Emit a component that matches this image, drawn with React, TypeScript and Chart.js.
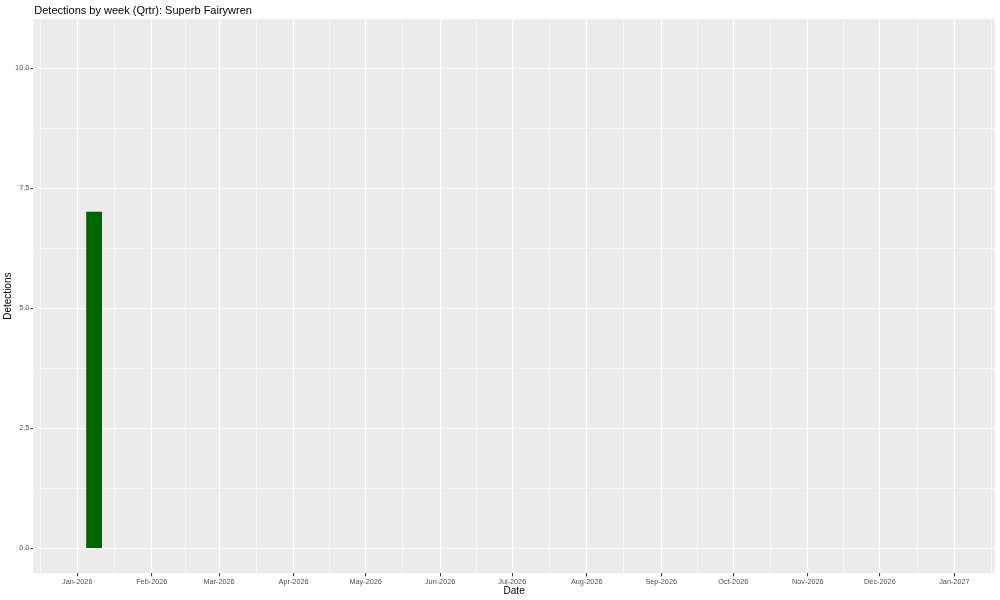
import React, { useEffect, useRef } from 'react';
import { Chart, registerables } from 'chart.js';

Chart.register(...registerables);

const TITLE = 'Detections by week (Qrtr): Superb Fairywren';
const X_TITLE = 'Date';
const Y_TITLE = 'Detections';

// weekly bars (date of week centre) and detections
const WEEK_DATES = ['2026-01-08'];
const DETECTIONS = [7];
const BAR_WIDTH_DAYS = 6.3;

// x axis: month breaks
const MONTH_TICK_DATES = [
  '2026-01-01', '2026-02-01', '2026-03-01', '2026-04-01', '2026-05-01', '2026-06-01', '2026-07-01',
  '2026-08-01', '2026-09-01', '2026-10-01', '2026-11-01', '2026-12-01', '2027-01-01',
];
const MONTH_TICK_LABELS = [
  'Jan-2026', 'Feb-2026', 'Mar-2026', 'Apr-2026', 'May-2026', 'Jun-2026', 'Jul-2026',
  'Aug-2026', 'Sep-2026', 'Oct-2026', 'Nov-2026', 'Dec-2026', 'Jan-2027',
];
const MONTH_EDGE_DATES = ['2025-12-01', '2027-02-01'];
const X_RANGE_DAYS = [-18.3, 381.9]; // days from 2026-01-01

// y axis
const Y_TICKS = [0, 2.5, 5, 7.5, 10];
const Y_TICK_LABELS = ['0.0', '2.5', '5.0', '7.5', '10.0'];
const Y_RANGE = [-0.525, 11.025];

const FONT = '"Liberation Sans", Arial, Helvetica, sans-serif';
const EPOCH = Date.parse('2026-01-01T00:00:00Z');
const dayOf = (s: string) => (Date.parse(s + 'T00:00:00Z') - EPOCH) / 86400000;

const majorX = MONTH_TICK_DATES.map(dayOf);
const extX = [dayOf(MONTH_EDGE_DATES[0]), ...majorX, dayOf(MONTH_EDGE_DATES[1])];
const minorX: number[] = [];
for (let i = 1; i < extX.length; i++) minorX.push((extX[i - 1] + extX[i]) / 2);
const minorY: number[] = [];
for (let i = 1; i < Y_TICKS.length; i++) minorY.push((Y_TICKS[i - 1] + Y_TICKS[i]) / 2);

const near = (a: number, b: number) => Math.abs(a - b) < 1e-6;
const isMajorX = (v: number) => majorX.some((m) => near(m, v));
const isMajorY = (v: number) => Y_TICKS.some((m) => near(m, v));

const panelBg = {
  id: 'panelBg',
  beforeDraw(chart: any) {
    const { ctx, chartArea } = chart;
    ctx.save();
    ctx.fillStyle = '#EBEBEB';
    ctx.fillRect(chartArea.left, chartArea.top, chartArea.right - chartArea.left, chartArea.bottom - chartArea.top);
    ctx.restore();
  },
};

const plotTitle = {
  id: 'plotTitle',
  afterDraw(chart: any) {
    const { ctx, chartArea } = chart;
    ctx.save();
    ctx.font = `11px ${FONT}`;
    ctx.fillStyle = '#000000';
    ctx.textAlign = 'left';
    ctx.textBaseline = 'alphabetic';
    ctx.fillText(TITLE, chartArea.left + 1, 14);
    ctx.restore();
  },
};

export default function App() {
  const ref = useRef<HTMLCanvasElement | null>(null);

  useEffect(() => {
    if (!ref.current) return;
    const chart = new Chart(ref.current, {
      type: 'bar',
      data: {
        datasets: [
          {
            data: WEEK_DATES.map((d, i) => ({ x: dayOf(d), y: DETECTIONS[i] })),
            backgroundColor: '#006400',
            borderWidth: 0,
            barThickness: 10,
          } as any,
        ],
      },
      plugins: [panelBg, plotTitle],
      options: {
        animation: false,
        responsive: false,
        devicePixelRatio: 1,
        layout: { padding: { top: 19, right: 5, left: 0, bottom: 0 } },
        plugins: { legend: { display: false }, tooltip: { enabled: false }, title: { display: false } },
        scales: {
          x: {
            type: 'linear',
            offset: false,
            min: X_RANGE_DAYS[0],
            max: X_RANGE_DAYS[1],
            afterBuildTicks: (s: any) => {
              s.ticks = [...majorX, ...minorX].sort((a, b) => a - b).map((v) => ({ value: v }));
            },
            afterFit: (s: any) => {
              s.height = 26.7;
            },
            ticks: {
              autoSkip: false,
              maxRotation: 0,
              minRotation: 0,
              padding: 1,
              color: '#4D4D4D',
              font: { family: FONT, size: 7.3 },
              callback: (v: any) => {
                const i = majorX.findIndex((m) => near(m, Number(v)));
                return i >= 0 ? MONTH_TICK_LABELS[i] : '';
              },
            },
            grid: {
              offset: false,
              color: '#FFFFFF',
              lineWidth: (c: any) => (c.tick && isMajorX(c.tick.value) ? 1.1 : 0.55),
              drawTicks: true,
              tickLength: 3,
              tickWidth: 1,
              tickColor: (c: any) => (c.tick && isMajorX(c.tick.value) ? '#333333' : 'rgba(0,0,0,0)'),
            },
            border: { display: false },
            title: {
              display: true,
              text: X_TITLE,
              color: '#000000',
              font: { family: FONT, size: 10 },
              padding: { top: 0, bottom: 3 },
            },
          },
          y: {
            type: 'linear',
            min: Y_RANGE[0],
            max: Y_RANGE[1],
            afterBuildTicks: (s: any) => {
              s.ticks = [...Y_TICKS, ...minorY].sort((a, b) => a - b).map((v) => ({ value: v }));
            },
            afterFit: (s: any) => {
              s.width = 33.3;
            },
            ticks: {
              autoSkip: false,
              padding: 1,
              color: '#4D4D4D',
              font: { family: FONT, size: 7.3 },
              callback: (v: any) => {
                const i = Y_TICKS.findIndex((m) => near(m, Number(v)));
                return i >= 0 ? Y_TICK_LABELS[i] : '';
              },
            },
            grid: {
              offset: false,
              color: '#FFFFFF',
              lineWidth: (c: any) => (c.tick && isMajorY(c.tick.value) ? 1.1 : 0.55),
              drawTicks: true,
              tickLength: 3,
              tickWidth: 1,
              tickColor: (c: any) => (c.tick && isMajorY(c.tick.value) ? '#333333' : 'rgba(0,0,0,0)'),
            },
            border: { display: false },
            title: {
              display: true,
              text: Y_TITLE,
              color: '#000000',
              font: { family: FONT, size: 10 },
              padding: { top: 2, bottom: 0 },
            },
          },
        },
      },
    } as any);

    const xs = chart.scales.x;
    const px = xs.getPixelForValue(BAR_WIDTH_DAYS) - xs.getPixelForValue(0);
    (chart.data.datasets[0] as any).barThickness = px;
    chart.update();

    return () => chart.destroy();
  }, []);

  return (
    <div style={{ position: 'fixed', left: 0, top: 0, width: 1000, height: 600, background: '#FFFFFF' }}>
      <canvas ref={ref} width={1000} height={600} style={{ width: 1000, height: 600, display: 'block' }} />
    </div>
  );
}
